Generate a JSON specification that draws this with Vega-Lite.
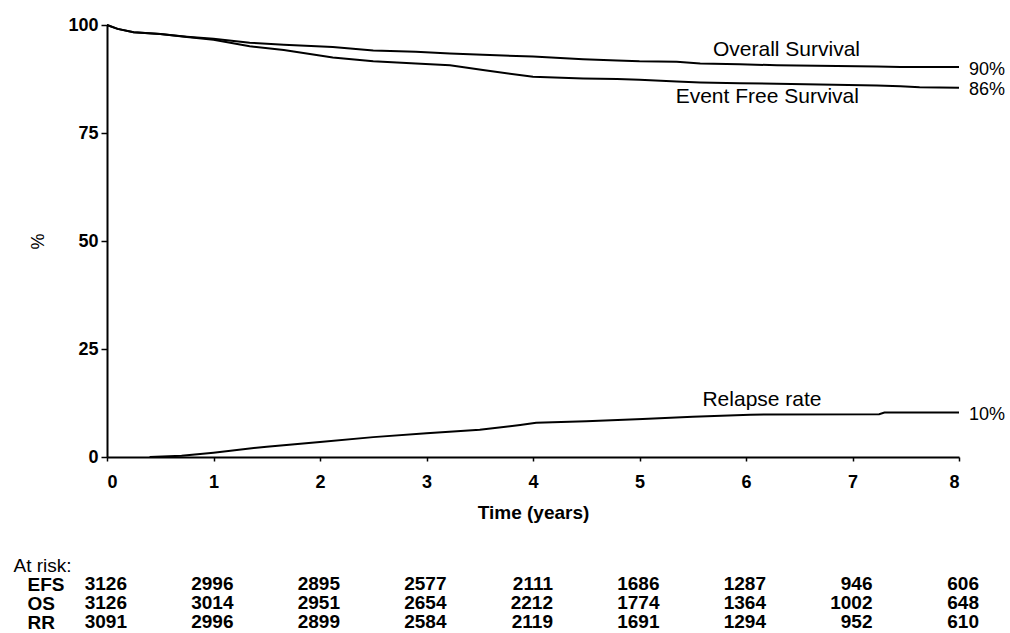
{
  "$schema": "https://vega.github.io/schema/vega-lite/v6.json",
  "padding": {"left": 13, "top": 16, "right": 2, "bottom": 0},
  "spacing": 34,
  "config": {
    "font": "Liberation Sans",
    "view": {"stroke": null},
    "axis": {"grid": false, "domainColor": "black", "tickColor": "black", "labelColor": "black", "titleColor": "black", "domainWidth": 2, "tickWidth": 1.5}
  },
  "vconcat": [
    {
      "width": 852,
      "height": 432,
      "layer": [
        {
          "data": {"values": [
            {"series": "OS", "t": 0, "v": 100}, {"series": "OS", "t": 0.1, "v": 99.1}, {"series": "OS", "t": 0.25, "v": 98.3}, {"series": "OS", "t": 0.5, "v": 97.9}, {"series": "OS", "t": 0.75, "v": 97.3}, {"series": "OS", "t": 1.0, "v": 96.8}, {"series": "OS", "t": 1.34, "v": 95.9}, {"series": "OS", "t": 1.66, "v": 95.4}, {"series": "OS", "t": 2.12, "v": 94.9}, {"series": "OS", "t": 2.5, "v": 94.1}, {"series": "OS", "t": 2.9, "v": 93.8}, {"series": "OS", "t": 3.22, "v": 93.4}, {"series": "OS", "t": 3.53, "v": 93.1}, {"series": "OS", "t": 4.0, "v": 92.7}, {"series": "OS", "t": 4.47, "v": 92.1}, {"series": "OS", "t": 4.79, "v": 91.8}, {"series": "OS", "t": 5.0, "v": 91.6}, {"series": "OS", "t": 5.35, "v": 91.5}, {"series": "OS", "t": 5.57, "v": 91.1}, {"series": "OS", "t": 5.94, "v": 90.9}, {"series": "OS", "t": 6.29, "v": 90.7}, {"series": "OS", "t": 7.23, "v": 90.4}, {"series": "OS", "t": 7.45, "v": 90.3}, {"series": "OS", "t": 8.0, "v": 90.3},
            {"series": "EFS", "t": 0, "v": 100}, {"series": "EFS", "t": 0.1, "v": 99.1}, {"series": "EFS", "t": 0.25, "v": 98.3}, {"series": "EFS", "t": 0.5, "v": 97.9}, {"series": "EFS", "t": 0.75, "v": 97.2}, {"series": "EFS", "t": 1.0, "v": 96.6}, {"series": "EFS", "t": 1.34, "v": 95.1}, {"series": "EFS", "t": 1.66, "v": 94.2}, {"series": "EFS", "t": 2.12, "v": 92.5}, {"series": "EFS", "t": 2.5, "v": 91.6}, {"series": "EFS", "t": 2.9, "v": 91.1}, {"series": "EFS", "t": 3.22, "v": 90.7}, {"series": "EFS", "t": 3.53, "v": 89.6}, {"series": "EFS", "t": 4.0, "v": 88.0}, {"series": "EFS", "t": 4.47, "v": 87.6}, {"series": "EFS", "t": 4.79, "v": 87.5}, {"series": "EFS", "t": 5.0, "v": 87.3}, {"series": "EFS", "t": 5.35, "v": 86.9}, {"series": "EFS", "t": 5.57, "v": 86.7}, {"series": "EFS", "t": 5.94, "v": 86.5}, {"series": "EFS", "t": 6.29, "v": 86.4}, {"series": "EFS", "t": 7.23, "v": 86.0}, {"series": "EFS", "t": 7.45, "v": 85.8}, {"series": "EFS", "t": 7.63, "v": 85.6}, {"series": "EFS", "t": 8.0, "v": 85.5},
            {"series": "RR", "t": 0.4, "v": 0}, {"series": "RR", "t": 0.7, "v": 0.3}, {"series": "RR", "t": 1.0, "v": 1.0}, {"series": "RR", "t": 1.5, "v": 2.4}, {"series": "RR", "t": 2.0, "v": 3.5}, {"series": "RR", "t": 2.5, "v": 4.6}, {"series": "RR", "t": 3.0, "v": 5.5}, {"series": "RR", "t": 3.5, "v": 6.3}, {"series": "RR", "t": 3.88, "v": 7.4}, {"series": "RR", "t": 4.03, "v": 7.9}, {"series": "RR", "t": 4.5, "v": 8.3}, {"series": "RR", "t": 5.03, "v": 8.8}, {"series": "RR", "t": 5.5, "v": 9.3}, {"series": "RR", "t": 6.04, "v": 9.8}, {"series": "RR", "t": 7.25, "v": 9.9}, {"series": "RR", "t": 7.3, "v": 10.3}, {"series": "RR", "t": 8.0, "v": 10.3}
          ]},
          "mark": {"type": "line", "color": "black", "strokeWidth": 2},
          "encoding": {
            "x": {"field": "t", "type": "quantitative", "scale": {"domain": [0, 8], "nice": false},
              "axis": {"values": [0, 1, 2, 3, 4, 5, 6, 7, 8], "format": "d", "title": "Time (years)", "labelFontSize": 18, "labelFontWeight": "bold", "tickSize": 4, "labelPadding": 12, "titleFontSize": 19, "titleFontWeight": "bold", "titlePadding": 12}},
            "y": {"field": "v", "type": "quantitative", "scale": {"domain": [0, 100], "nice": false},
              "axis": {"values": [0, 25, 50, 75, 100], "format": "d", "title": "%", "labelFontSize": 18, "labelFontWeight": "bold", "tickSize": 6, "labelPadding": 3, "titleFontSize": 18, "titleFontWeight": "normal", "titlePadding": 20}},
            "detail": {"field": "series"}
          }
        },
        {
          "data": {"values": [
            {"t": 6.38, "v": 94.2, "label": "Overall Survival"},
            {"t": 6.2, "v": 83.4, "label": "Event Free Survival"},
            {"t": 6.15, "v": 13.2, "label": "Relapse rate"}
          ]},
          "mark": {"type": "text", "fontSize": 21, "color": "black", "align": "center", "baseline": "middle"},
          "encoding": {
            "x": {"field": "t", "type": "quantitative"},
            "y": {"field": "v", "type": "quantitative"},
            "text": {"field": "label"}
          }
        },
        {
          "data": {"values": [
            {"t": 8, "v": 90.0, "label": "90%"},
            {"t": 8, "v": 85.5, "label": "86%"},
            {"t": 8, "v": 10.3, "label": "10%"}
          ]},
          "mark": {"type": "text", "fontSize": 18, "color": "black", "align": "left", "baseline": "middle", "dx": 10, "dy": 2},
          "encoding": {
            "x": {"field": "t", "type": "quantitative"},
            "y": {"field": "v", "type": "quantitative"},
            "text": {"field": "label"}
          }
        }
      ]
    },
    {
      "width": 852,
      "height": 57,
      "data": {"values": [
        {"row": "EFS", "t": 0, "n": 3126}, {"row": "EFS", "t": 1, "n": 2996}, {"row": "EFS", "t": 2, "n": 2895}, {"row": "EFS", "t": 3, "n": 2577}, {"row": "EFS", "t": 4, "n": 2111}, {"row": "EFS", "t": 5, "n": 1686}, {"row": "EFS", "t": 6, "n": 1287}, {"row": "EFS", "t": 7, "n": 946}, {"row": "EFS", "t": 8, "n": 606},
        {"row": "OS", "t": 0, "n": 3126}, {"row": "OS", "t": 1, "n": 3014}, {"row": "OS", "t": 2, "n": 2951}, {"row": "OS", "t": 3, "n": 2654}, {"row": "OS", "t": 4, "n": 2212}, {"row": "OS", "t": 5, "n": 1774}, {"row": "OS", "t": 6, "n": 1364}, {"row": "OS", "t": 7, "n": 1002}, {"row": "OS", "t": 8, "n": 648},
        {"row": "RR", "t": 0, "n": 3091}, {"row": "RR", "t": 1, "n": 2996}, {"row": "RR", "t": 2, "n": 2899}, {"row": "RR", "t": 3, "n": 2584}, {"row": "RR", "t": 4, "n": 2119}, {"row": "RR", "t": 5, "n": 1691}, {"row": "RR", "t": 6, "n": 1294}, {"row": "RR", "t": 7, "n": 952}, {"row": "RR", "t": 8, "n": 610}
      ]},
      "mark": {"type": "text", "align": "right", "baseline": "middle", "dx": 20, "fontSize": 19, "fontWeight": "bold", "color": "black"},
      "encoding": {
        "x": {"field": "t", "type": "quantitative", "scale": {"domain": [0, 8], "nice": false}, "axis": null},
        "y": {"field": "row", "type": "ordinal", "scale": {"type": "point", "domain": ["At risk:", "EFS", "OS", "RR"], "padding": 0},
          "axis": {"domain": false, "ticks": false, "tickSize": 0, "title": null, "labelAlign": "left", "labelFontSize": 19,
            "labelPadding": {"condition": {"test": "datum.value === 'At risk:'", "value": 94}, "value": 80},
            "labelFontWeight": {"condition": {"test": "datum.value === 'At risk:'", "value": "normal"}, "value": "bold"}}},
        "text": {"field": "n"}
      }
    }
  ]
}
